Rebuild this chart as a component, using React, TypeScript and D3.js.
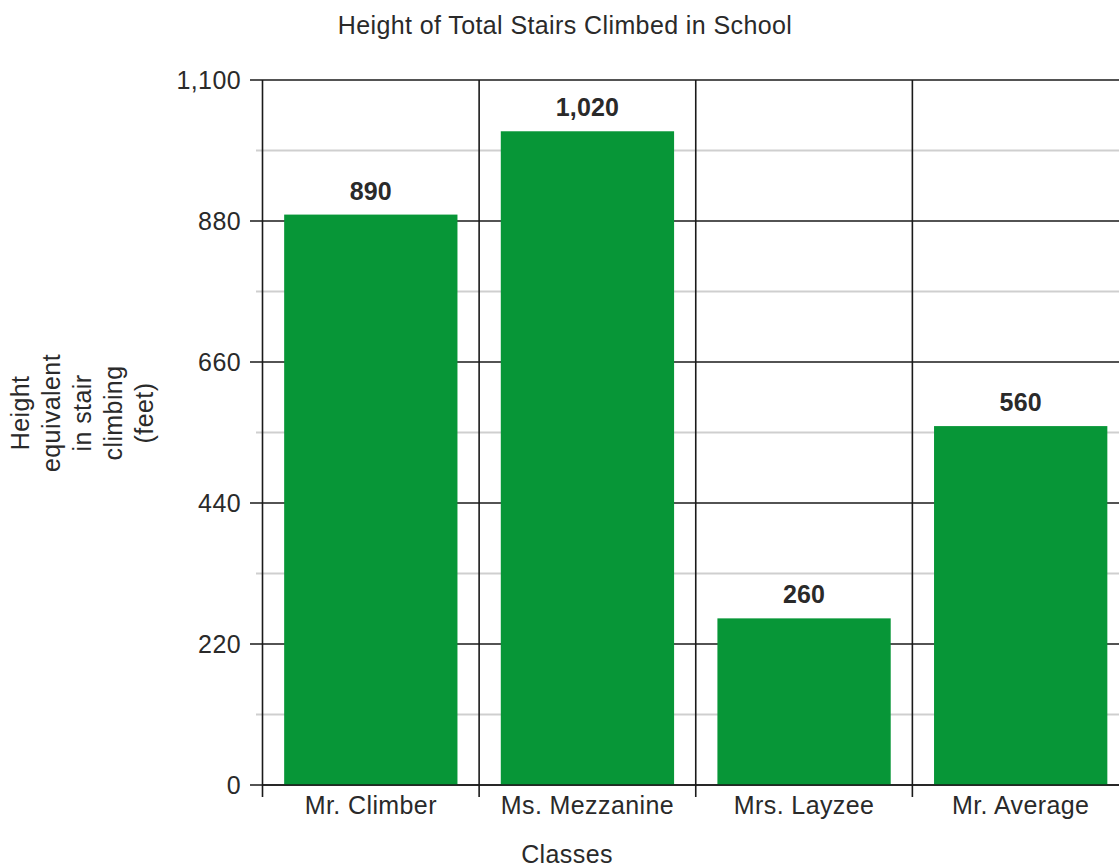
import React from "react";
import * as d3 from "d3";

const classes: string[] = ["Mr. Climber", "Ms. Mezzanine", "Mrs. Layzee", "Mr. Average"];
const heights: number[] = [890, 1020, 260, 560];
const majorTicks: number[] = [0, 220, 440, 660, 880, 1100];
const minorTicks: number[] = [110, 330, 550, 770, 990];
const yTitleLines: string[] = ["Height", "equivalent", "in stair", "climbing", "(feet)"];

const W = 1119;
const H = 867;
const FONT = "'Liberation Sans', Arial, Helvetica, sans-serif";
const TEXT = "#2a2a2a";
const BAR = "#079637";

export default function App() {
  const left = 262.5;
  const right = 1129;
  const top = 80;
  const bottom = 785;

  const y = d3.scaleLinear().domain([0, 1100]).range([bottom, top]);
  const band = d3.scaleBand<string>().domain(classes).range([left, right]).padding(0);
  const x = d3
    .scaleBand<string>()
    .domain(classes)
    .range([left, right])
    .paddingInner(0.2)
    .paddingOuter(0.1);

  const dividers = classes.map((c) => band(c)!).concat([right]);
  const fmt = d3.format(",");

  const textStyle: React.CSSProperties = {
    fontFamily: FONT,
    fontSize: 25,
    letterSpacing: "0.4px",
    fill: TEXT,
  };

  return (
    <svg
      width={W}
      height={H}
      style={{ position: "absolute", left: 0, top: 0, background: "#fff" }}
    >
      <rect x={0} y={0} width={W} height={H} fill="#fff" />

      {/* title */}
      <text x={565} y={34} textAnchor="middle" style={textStyle}>
        Height of Total Stairs Climbed in School
      </text>

      {/* minor gridlines */}
      {minorTicks.map((t) => (
        <line
          key={"mn" + t}
          x1={256}
          x2={W}
          y1={y(t)}
          y2={y(t)}
          stroke="#cfcfcf"
          strokeWidth={2}
        />
      ))}

      {/* major gridlines with ticks */}
      {majorTicks.map((t) => (
        <line
          key={"mj" + t}
          x1={250}
          x2={W}
          y1={y(t)}
          y2={y(t)}
          stroke="#1a1a1a"
          strokeWidth={1.6}
        />
      ))}

      {/* y axis and class dividers */}
      {dividers.map((d, i) => (
        <line
          key={"dv" + i}
          x1={d}
          x2={d}
          y1={top}
          y2={797}
          stroke="#1a1a1a"
          strokeWidth={1.6}
        />
      ))}

      {/* bars */}
      {classes.map((c, i) => (
        <rect
          key={"b" + c}
          x={x(c)}
          y={y(heights[i])}
          width={x.bandwidth()}
          height={y(0) - y(heights[i])}
          fill={BAR}
        />
      ))}

      {/* baseline redrawn over bars */}
      <line x1={left} x2={W} y1={y(0)} y2={y(0)} stroke="#1a1a1a" strokeWidth={1.6} />

      {/* value labels */}
      {classes.map((c, i) => (
        <text
          key={"v" + c}
          x={x(c)! + x.bandwidth() / 2}
          y={y(heights[i]) - 15}
          textAnchor="middle"
          style={{ ...textStyle, fontWeight: "bold", letterSpacing: "0.2px" }}
        >
          {fmt(heights[i])}
        </text>
      ))}

      {/* y tick labels */}
      {majorTicks.map((t) => (
        <text
          key={"yl" + t}
          x={241}
          y={y(t)}
          dy="0.35em"
          textAnchor="end"
          style={textStyle}
        >
          {fmt(t)}
        </text>
      ))}

      {/* category labels */}
      {classes.map((c) => (
        <text
          key={"xl" + c}
          x={band(c)! + band.bandwidth() / 2}
          y={814}
          textAnchor="middle"
          style={textStyle}
        >
          {c}
        </text>
      ))}

      {/* x axis title */}
      <text x={567} y={863} textAnchor="middle" style={textStyle}>
        Classes
      </text>

      {/* y axis title */}
      <g transform="translate(0,413) rotate(-90)">
        {yTitleLines.map((l, i) => (
          <text key={"yt" + i} x={0} y={29 + i * 31} textAnchor="middle" style={textStyle}>
            {l}
          </text>
        ))}
      </g>
    </svg>
  );
}
